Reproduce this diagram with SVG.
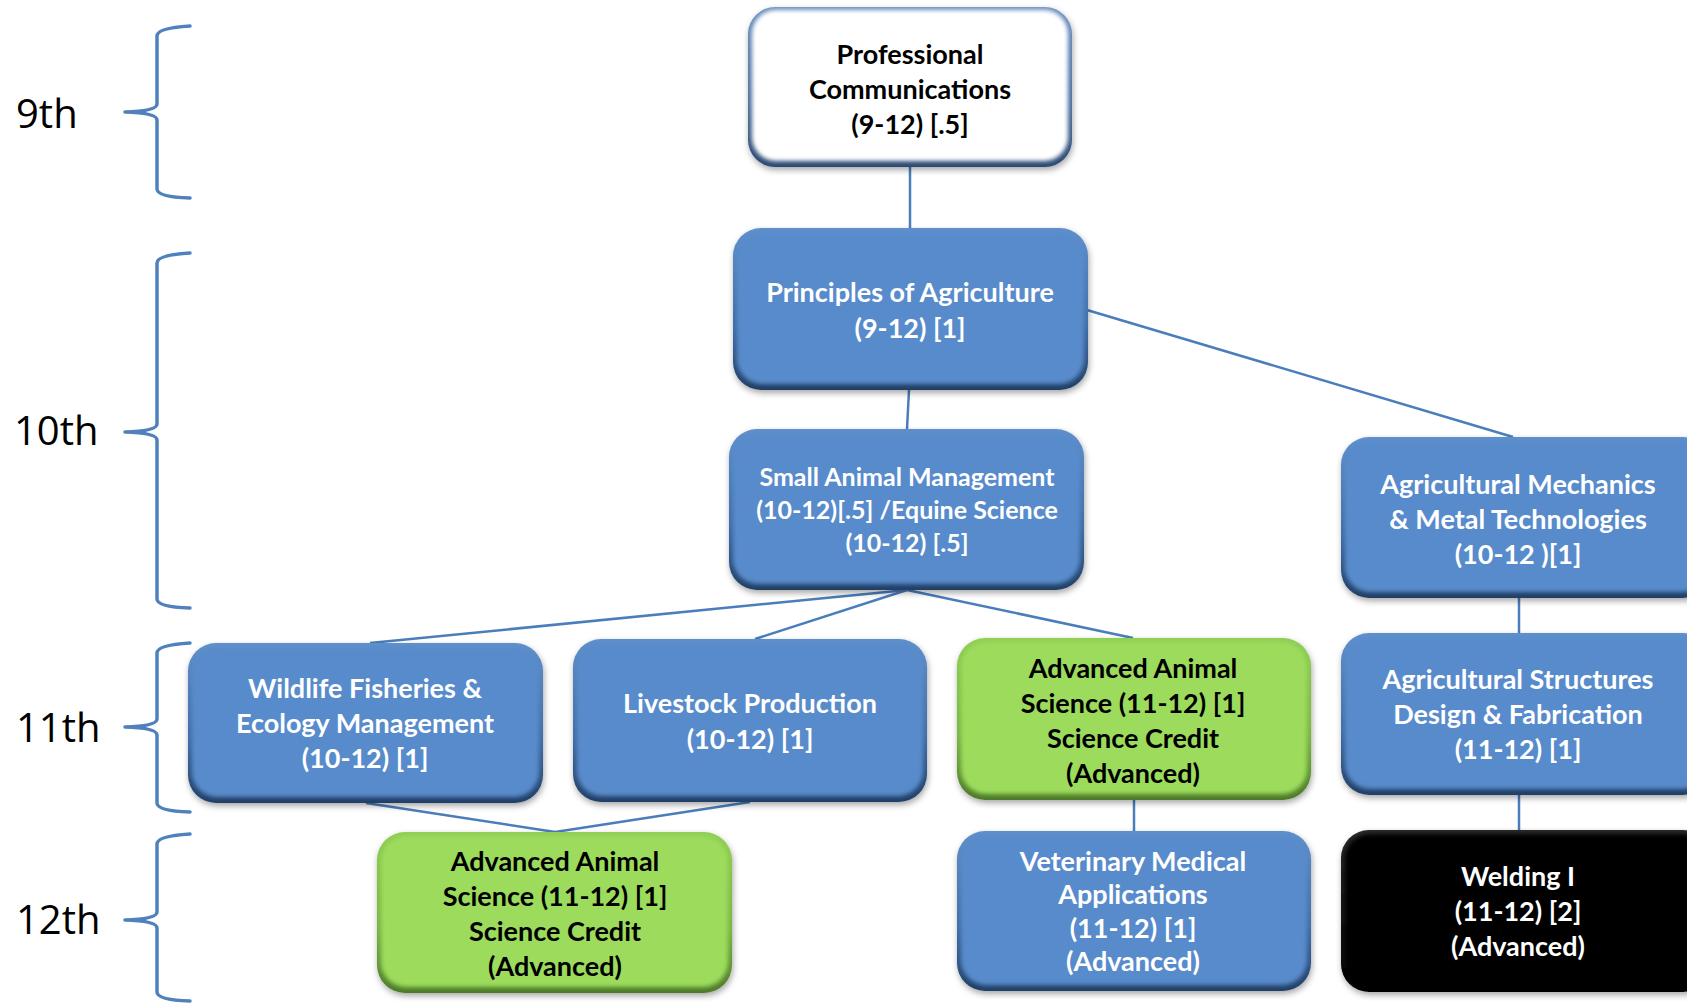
<svg xmlns="http://www.w3.org/2000/svg" width="1687" height="1003" viewBox="0 0 1687 1003">
<defs>
<style>
.lbl{font-family:"Open Sans","Liberation Sans",sans-serif;font-size:40px;fill:#000}
.t{font-family:Lato,"Liberation Sans",sans-serif;font-weight:bold;font-size:27px;text-anchor:middle}
.s{font-size:25px}
.tw{fill:#fff}
.tb{fill:#000}
.br{fill:none;stroke:#4f81bd;stroke-width:3.5;stroke-linecap:round;stroke-linejoin:round}
.cn{fill:none;stroke:#4a7ebb;stroke-width:2.5}
.eb{fill:url(#gBlueEdge)}
.fb{fill:#588bcb}
.eg{fill:url(#gGreenEdge)}
.fg{fill:#9cdb5c}
.ew{fill:url(#gWhiteEdge)}
.fw{fill:#ffffff}
.ek{fill:url(#gBlackEdge)}
.fk{fill:#060606}
.hb{fill:none;stroke:#8fb8e8;stroke-width:3;opacity:.8}
.hg{fill:none;stroke:#c8f09e;stroke-width:3;opacity:.8}
.hk{fill:none;stroke:#777;stroke-width:3;opacity:.8}
</style>
<linearGradient id="gBlueEdge" x1="0" y1="0" x2="0" y2="1">
<stop offset="0" stop-color="#5f90cc"/><stop offset="0.6" stop-color="#3f6ea8"/><stop offset="1" stop-color="#223f66"/>
</linearGradient>
<linearGradient id="gGreenEdge" x1="0" y1="0" x2="0" y2="1">
<stop offset="0" stop-color="#8fcf55"/><stop offset="0.6" stop-color="#79b444"/><stop offset="1" stop-color="#4d7a2a"/>
</linearGradient>
<linearGradient id="gWhiteEdge" x1="0" y1="0" x2="0" y2="1">
<stop offset="0" stop-color="#6b8fbf"/><stop offset="0.6" stop-color="#4a6e9e"/><stop offset="1" stop-color="#2c4a72"/>
</linearGradient>
<linearGradient id="gBlackEdge" x1="0" y1="0" x2="0" y2="1">
<stop offset="0" stop-color="#2a2a2a"/><stop offset="1" stop-color="#000"/>
</linearGradient>
<filter id="sh" x="-10%" y="-10%" width="120%" height="130%">
<feDropShadow dx="1" dy="3" stdDeviation="3" flood-color="#000" flood-opacity="0.35"/>
</filter>
<filter id="soft" x="-5%" y="-5%" width="110%" height="110%">
<feGaussianBlur stdDeviation="2.2"/>
</filter>
</defs>
<rect width="1687" height="1003" fill="#fff"/>

<g id="brackets">
<path class="br" d="M190,26 Q157,28 157,36 L157,104 Q157,111 125,112 Q157,113 157,120 L157,189 Q157,197 190,198"/>
<path class="br" d="M190,253 Q157,255 157,263 L157,424 Q157,431 125,432 Q157,433 157,440 L157,599 Q157,607 190,608"/>
<path class="br" d="M190,643 Q157,645 157,653 L157,719 Q157,726 125,727 Q157,728 157,735 L157,803 Q157,811 190,812"/>
<path class="br" d="M190,834 Q157,836 157,844 L157,912 Q157,919 125,920 Q157,921 157,928 L157,992 Q157,1000 190,1001"/>
<text class="lbl" x="16" y="128">9th</text>
<text class="lbl" x="14" y="445">10th</text>
<text class="lbl" x="16" y="742">11th</text>
<text class="lbl" x="16" y="934">12th</text>
</g>

<g id="connectors">
<path class="cn" d="M910,167 L910,228"/>
<path class="cn" d="M909,390 L907,429"/>
<path class="cn" d="M1087,310 L1513,437"/>
<path class="cn" d="M907,590 L370,643"/>
<path class="cn" d="M907,590 L755,639"/>
<path class="cn" d="M907,590 L1133,638"/>
<path class="cn" d="M366,803 L555,832"/>
<path class="cn" d="M750,802 L555,832"/>
<path class="cn" d="M1134,800 L1134,831"/>
<path class="cn" d="M1519,598 L1519,633"/>
<path class="cn" d="M1519,795 L1519,830"/>
</g>

<g id="n-prof">
<rect class="ew" x="748" y="7" width="324" height="160" rx="27" filter="url(#sh)"/>
<rect class="fw" x="752" y="10" width="316" height="151" rx="24" filter="url(#soft)"/>
<text class="t tb" x="910" y="64">Professional</text>
<text class="t tb" x="910" y="99">Communications</text>
<text class="t tb" x="910" y="134">(9-12) [.5]</text>
</g>

<g id="n-principles">
<rect class="eb" x="733" y="228" width="355" height="162" rx="28" filter="url(#sh)"/>
<rect class="fb" x="737" y="232" width="347" height="152" rx="25" filter="url(#soft)"/>
<path class="hb" d="M760,235 L1060,235" filter="url(#soft)"/>
<text class="t tw" x="910" y="302">Principles of Agriculture</text>
<text class="t tw" x="910" y="338">(9-12) [1]</text>
</g>

<g id="n-smallanimal">
<rect class="eb" x="729" y="429" width="355" height="161" rx="28" filter="url(#sh)"/>
<rect class="fb" x="733" y="433" width="347" height="151" rx="25" filter="url(#soft)"/>
<path class="hb" d="M756,436 L1056,436" filter="url(#soft)"/>
<text class="t s tw" x="907" y="486">Small Animal Management</text>
<text class="t s tw" x="907" y="519">(10-12)[.5] /Equine Science</text>
<text class="t s tw" x="907" y="552">(10-12) [.5]</text>
</g>

<g id="n-mech">
<rect class="eb" x="1341" y="437" width="370" height="161" rx="28" filter="url(#sh)"/>
<rect class="fb" x="1345" y="441" width="362" height="151" rx="25" filter="url(#soft)"/>
<path class="hb" d="M1368,444 L1687,444" filter="url(#soft)"/>
<text class="t tw" x="1518" y="494">Agricultural  Mechanics</text>
<text class="t tw" x="1518" y="529">&amp; Metal Technologies</text>
<text class="t tw" x="1518" y="564">(10-12 )[1]</text>
</g>

<g id="n-structures">
<rect class="eb" x="1341" y="633" width="370" height="162" rx="28" filter="url(#sh)"/>
<rect class="fb" x="1345" y="637" width="362" height="152" rx="25" filter="url(#soft)"/>
<path class="hb" d="M1368,640 L1687,640" filter="url(#soft)"/>
<text class="t tw" x="1518" y="689">Agricultural Structures</text>
<text class="t tw" x="1518" y="724">Design &amp; Fabrication</text>
<text class="t tw" x="1518" y="759">(11-12) [1]</text>
</g>

<g id="n-wildlife">
<rect class="eb" x="188" y="643" width="355" height="160" rx="28" filter="url(#sh)"/>
<rect class="fb" x="192" y="647" width="347" height="150" rx="25" filter="url(#soft)"/>
<path class="hb" d="M215,650 L515,650" filter="url(#soft)"/>
<text class="t tw" x="365" y="698">Wildlife Fisheries &amp;</text>
<text class="t tw" x="365" y="733">Ecology Management</text>
<text class="t tw" x="365" y="768">(10-12) [1]</text>
</g>

<g id="n-livestock">
<rect class="eb" x="573" y="639" width="354" height="163" rx="28" filter="url(#sh)"/>
<rect class="fb" x="577" y="643" width="346" height="153" rx="25" filter="url(#soft)"/>
<path class="hb" d="M600,646 L900,646" filter="url(#soft)"/>
<text class="t tw" x="750" y="713">Livestock Production</text>
<text class="t tw" x="750" y="749">(10-12) [1]</text>
</g>

<g id="n-advanimal11">
<rect class="eg" x="957" y="638" width="354" height="162" rx="28" filter="url(#sh)"/>
<rect class="fg" x="961" y="642" width="346" height="152" rx="25" filter="url(#soft)"/>
<path class="hg" d="M984,645 L1284,645" filter="url(#soft)"/>
<text class="t tb" x="1133" y="678">Advanced Animal</text>
<text class="t tb" x="1133" y="713">Science (11-12) [1]</text>
<text class="t tb" x="1133" y="748">Science Credit</text>
<text class="t tb" x="1133" y="783">(Advanced)</text>
</g>

<g id="n-vet">
<rect class="eb" x="957" y="831" width="354" height="160" rx="28" filter="url(#sh)"/>
<rect class="fb" x="961" y="835" width="346" height="150" rx="25" filter="url(#soft)"/>
<path class="hb" d="M984,838 L1284,838" filter="url(#soft)"/>
<text class="t tw" x="1133" y="871">Veterinary Medical</text>
<text class="t tw" x="1133" y="904">Applications</text>
<text class="t tw" x="1133" y="938">(11-12) [1]</text>
<text class="t tw" x="1133" y="971">(Advanced)</text>
</g>

<g id="n-advanimal12">
<rect class="eg" x="377" y="832" width="355" height="161" rx="28" filter="url(#sh)"/>
<rect class="fg" x="381" y="836" width="347" height="151" rx="25" filter="url(#soft)"/>
<path class="hg" d="M404,839 L704,839" filter="url(#soft)"/>
<text class="t tb" x="555" y="871">Advanced Animal</text>
<text class="t tb" x="555" y="906">Science (11-12) [1]</text>
<text class="t tb" x="555" y="941">Science Credit</text>
<text class="t tb" x="555" y="976">(Advanced)</text>
</g>

<g id="n-welding">
<rect class="ek" x="1341" y="830" width="370" height="162" rx="28" filter="url(#sh)"/>
<rect class="fk" x="1345" y="834" width="362" height="152" rx="25" filter="url(#soft)"/>
<path class="hk" d="M1368,837 L1687,837" filter="url(#soft)"/>
<text class="t tw" x="1518" y="886">Welding I</text>
<text class="t tw" x="1518" y="921">(11-12) [2]</text>
<text class="t tw" x="1518" y="956">(Advanced)</text>
</g>
</svg>
